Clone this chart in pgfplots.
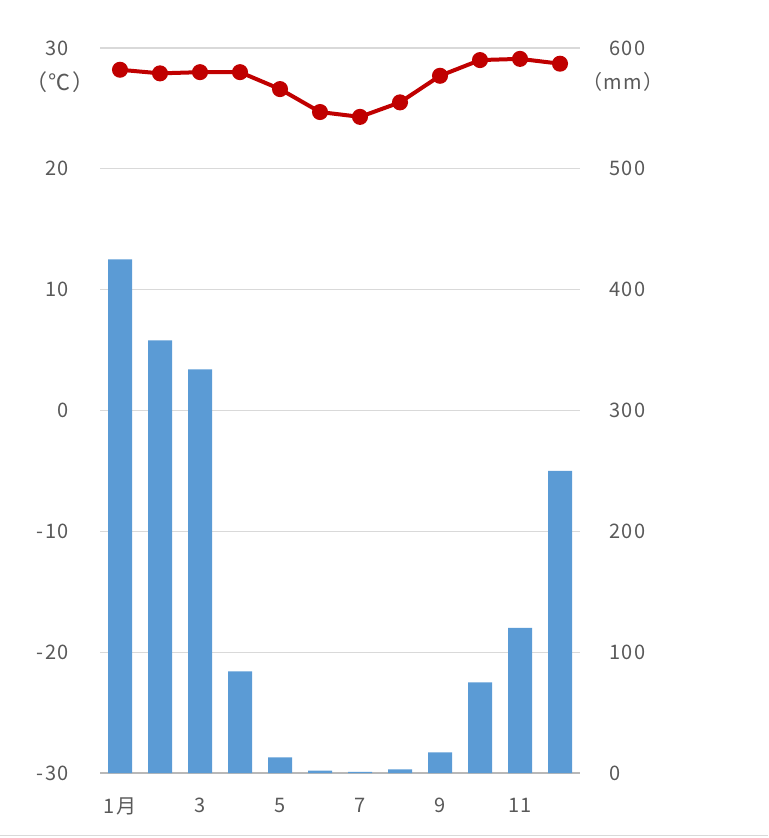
\documentclass[border=0pt]{standalone}
\usepackage{fontspec}
\setmainfont{Noto Sans CJK JP}
\newfontfamily\lblfont[LetterSpace=8]{Noto Sans CJK JP}
\usepackage{pgfplots}
\pgfplotsset{compat=1.18}
\definecolor{barc}{HTML}{5B9BD5}
\definecolor{tempc}{HTML}{C00000}
\definecolor{gridc}{HTML}{D9D9D9}
\definecolor{txtc}{HTML}{595959}
\begin{document}
\begin{tikzpicture}
\useasboundingbox (-50pt,-32.5pt) rectangle (334pt,386.5pt);
\pgfplotsset{
  common/.style={
    at={(0,0)}, anchor=south west,
    scale only axis, width=240pt, height=362.5pt,
    xmin=0.5, xmax=12.5,
    major tick length=0pt,
    tick label style={font=\lblfont\fontsize{10}{11}\selectfont, text=txtc},
    /pgf/number format/assume math mode=true,
  }
}
% precipitation (right axis, bars)
\begin{axis}[common,
  axis y line*=right, axis x line*=bottom,
  ymin=0, ymax=600, ytick={0,100,...,600},
  ymajorgrids, xmajorgrids=false,
  grid style={draw=gridc, line width=0.6pt},
  y axis line style={draw=none},
  x axis line style={draw=gridc!85!black, line width=0.6pt},
  xtick={1,3,5,7,9,11}, xticklabels={1月,3,5,7,9,11},
  xticklabel style={yshift=-9pt},
  yticklabel style={anchor=west, xshift=11pt},
]
\addplot[ybar, bar width=12pt, fill=barc, draw=none] coordinates {
  (1,425) (2,358) (3,334) (4,84) (5,13) (6,2)
  (7,1) (8,3) (9,17) (10,75) (11,120) (12,250)
};
\end{axis}
% temperature (left axis, line)
\begin{axis}[common,
  axis y line*=left, hide x axis,
  ymin=-30, ymax=30, ytick={-30,-20,...,30},
  y axis line style={draw=none},
  yticklabel style={anchor=east, xshift=-12pt},
]
\addplot[tempc, line width=2pt, mark=*, mark size=3pt, mark options={fill=tempc}] coordinates {
  (1,28.2) (2,27.9) (3,28.0) (4,28.0) (5,26.6) (6,24.7)
  (7,24.3) (8,25.5) (9,27.7) (10,29.0) (11,29.1) (12,28.7)
};
\end{axis}
\node[text=txtc, font=\lblfont\fontsize{11}{12}\selectfont] at (-20pt,345.5pt) {（℃）};
\node[text=txtc, font=\lblfont\fontsize{10}{11}\selectfont] at (261.5pt,345.5pt) {（mm）};
\draw[gridc, line width=0.5pt] (-50pt,-31.5pt) -- (334pt,-31.5pt);
\end{tikzpicture}
\end{document}
